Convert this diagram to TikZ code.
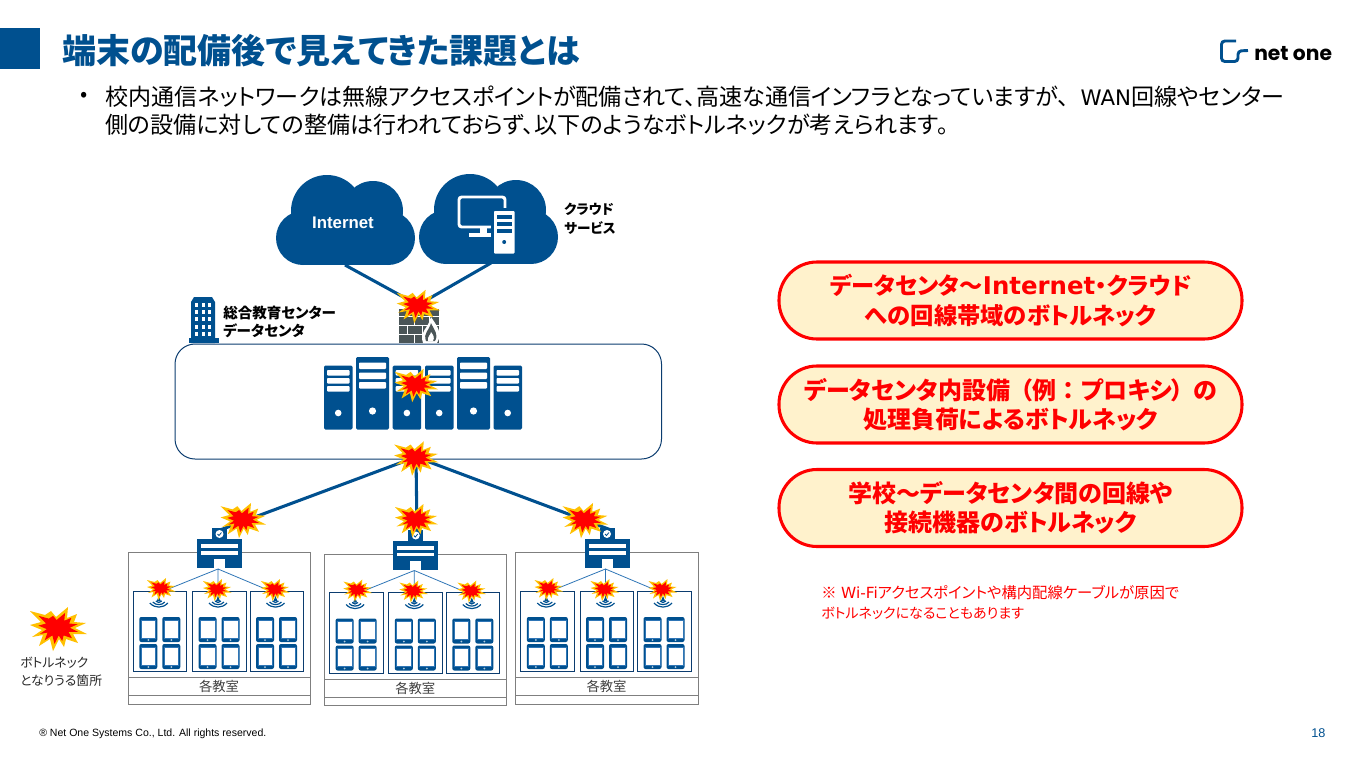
\documentclass[tikz,border=0pt]{standalone}
\usepackage{fontspec}
\setmainfont{Noto Sans CJK JP}[RawFeature=+palt]
\newfontfamily\latinfont{Liberation Sans}
\newfontfamily\widefont{DejaVu Sans}
\newfontfamily\logofont{Poppins}
\usepackage{tikz}

\definecolor{brand}{HTML}{00508F}
\definecolor{boxline}{HTML}{0B3C6F}
\definecolor{wire}{HTML}{2E75B6}
\definecolor{roomline}{HTML}{7F7F7F}
\definecolor{wall}{HTML}{4A5557}
\definecolor{gold}{HTML}{FFC000}
\definecolor{pillfill}{HTML}{FFF2CC}

\newcommand{\fsz}[1]{\fontsize{#1}{#1}\selectfont}
\newcommand{\burstpath}{(-28,-16) -- (-13,-12) -- (-7,-16) -- (-2,-10) -- (10,-20) -- (9,-9) -- (19,-13) -- (16,-5) -- (28,-4) -- (17,1) -- (29,7) -- (15,7) -- (20,16) -- (8,12) -- (6,20) -- (1,12) -- (-5,24) -- (-8,12) -- (-19,19) -- (-15,8) -- (-26,10) -- (-16,3) -- (-28,-2) -- (-17,-5) -- cycle}

\begin{document}
\begin{tikzpicture}[x=.75pt, y=-.75pt,
	txt/.style = {inner sep=0, anchor=west, align=left},
	pill/.style = {draw=red, fill=pillfill, line width=2.3pt, rounded corners=38pt*.75, minimum width=463*.75pt, minimum height=77*.75pt, inner sep=0, text=red, align=center, font=\fsz{18}\bfseries},
	link/.style = {draw=brand, line width=2.3pt},
	burst/.pic = {
		\fill[gold] \burstpath;
		\fill[red, scale=.7] \burstpath;
	},
	tablet/.pic = {
		\fill[brand, rounded corners=1.5pt] (0,0) rectangle (18,25);
		\fill[white, draw=wire, line width=.3pt] (1.7,2.7) rectangle (16.3,21);
		\fill[white!70!brand] (9,23) circle (1);
	},
	wifi/.pic = {
		\fill[brand] (0,-2) -- (2,3) -- (-2,3) -- cycle;
		\draw[brand, line width=.9pt] (-3,3) .. controls (-1.5,5) and (1.5,5) .. (3,3);
		\draw[brand, line width=.9pt] (-6,4) .. controls (-3,7.5) and (3,7.5) .. (6,4);
		\draw[brand, line width=.9pt] (-9,5) .. controls (-4,10.5) and (4,10.5) .. (9,5);
	},
	desk/.pic = {
		\draw[boxline, line width=.7pt] (0,0) rectangle (53.5,80.5);
		\foreach \tx in {6,29}
			\foreach \ty in {26,53}
				\pic at (\tx,\ty) {tablet};
		\pic at (25.5,7) {wifi};
	},
	router/.pic = {
		\fill[brand] (15,0) rectangle (30,12);
		\fill[brand] (0,11) rectangle (45,40);
		\fill[white] (22.5,6) circle (4);
		\draw[brand, line width=.6pt] (20.5,6) -- (22,7.5) -- (24.5,4.5);
		\fill[white] (4,16) rectangle (41,20);
		\fill[white] (4,23) rectangle (41,26.5);
		\fill[white] (17,31) rectangle (28,40);
	},
	room/.pic = {
		\draw[roomline, line width=.7pt] (0,.5) rectangle (182.5,152);
		\draw[roomline, line width=.7pt] (0,125.5) -- (182.5,125.5) (0,143.5) -- (182.5,143.5);
		\coordinate (-fan) at (90,17);
		\coordinate (-a) at (30.5,41);
		\coordinate (-b) at (90,46);
		\coordinate (-c) at (147,41);
		\draw[wire, line width=.6pt] (-a) -- (-fan) -- (-b) (-fan) -- (-c);
		\pic at (69,-24) {router};
		\pic at (5.3,39) {desk};
		\pic at (64.5,39) {desk};
		\pic at (122,39) {desk};
		\pic[scale=.5] at (33,36) {burst};
		\pic[scale=.5] at (89,37) {burst};
		\pic[scale=.5] at (147,37) {burst};
		\node[inner sep=0, text=black!75, font=\fsz{10}] (-name) at (91,134.5) {各教室};
	},
	smallsrv/.pic = {
		\fill[brand, rounded corners=1pt] (0,0) rectangle (28.5,64);
		\foreach \by in {4.5,12.5,20.5}
			\fill[white, rounded corners=.7pt] (3,\by) rectangle (25.5,\by+5.5);
		\fill[white] (14.2,47.5) circle (3.3);
	},
	bigsrv/.pic = {
		\fill[brand, rounded corners=1pt] (0,0) rectangle (33,72.5);
		\foreach \by in {5.5,15.5,25}
			\fill[white, rounded corners=.7pt] (3,\by) rectangle (30,\by+6.5);
		\fill[white] (16.5,54) circle (3.6);
	},
	cloud/.pic = {
		\fill[brand] (27,63) circle (27);
		\fill[brand] (112,63) circle (27);
		\fill[brand] (51,36) circle (36);
		\fill[brand] (97,36) circle (30);
		\fill[brand] (27,52) rectangle (112,90);
		\fill[brand] (45,30) rectangle (100,60);
	}]
	\useasboundingbox (0,0) rectangle (1361,764);

	% header
	\node[fill=brand, minimum width=40*.75pt, minimum height=41*.75pt, inner sep=0, anchor=north west] (mark) at (0,28) {};
	\node[txt, text=brand, font=\fsz{25.5}\bfseries] (title) at (62,51) {端末の配備後で見えてきた課題とは};
	\draw[brand, line width=2.2pt, rounded corners=2.5pt] (1236,41) -- (1221.5,41) -- (1221.5,61.5) -- (1238,61.5) -- (1238,51) -- (1248,50.5);
	\node[txt, font=\logofont\fsz{15.2}\bfseries] (logo) at (1254,54) {net one};
	\node[txt, font=\fsz{16}] (dot) at (80,97) {•};
	\node[txt, font=\fsz{17.3}] (lineA) at (105,97) {校内通信ネットワークは無線アクセスポイントが配備されて、高速な通信インフラとなっていますが、\kern.5em{\widefont\fsz{16}WAN}回線やセンター};
	\node[txt, font=\fsz{17.3}] (lineB) at (105,125) {側の設備に対しての整備は行われておらず、以下のようなボトルネックが考えられます。};

	% clouds
	\pic (inet) at (276,175) {cloud};
	\pic (svc) at (419,174) {cloud};
	\node[inner sep=0, text=white, font=\latinfont\fsz{12.6}\bfseries] (inettxt) at (343,223) {Internet};
	\draw[white, line width=2.2pt, rounded corners=2pt] (459,197) rectangle (505,227);
	\fill[white] (480,228) rectangle (487,233);
	\fill[white] (469,233) rectangle (492,237);
	\fill[brand] (491,208) rectangle (518,256);
	\fill[white, rounded corners=.7pt] (494,211) rectangle (514.5,253.5);
	\fill[brand] (497,215) rectangle (511.5,219);
	\fill[brand] (497,222) rectangle (511.5,226);
	\fill[brand] (497,229) rectangle (511.5,232.5);
	\fill[brand] (504.2,242) circle (2);
	\node[txt, font=\fsz{10.2}\bfseries] (svctxt) at (564,219) {クラウド\\[3.8pt]サービス};

	% data center
	\fill[brand] (191,343) -- (191,302) -- (194,297) -- (212,297) -- (215,302) -- (215,343) -- cycle;
	\fill[brand] (189,338) rectangle (219,343);
	\foreach \wx in {195,201.5,208}
		\foreach \wy in {303,310,317,325,332}
			\fill[white] (\wx,\wy) rectangle (\wx+3,\wy+3.5);
	\node[txt, font=\fsz{10.9}\bfseries] (dctxt) at (223,322) {総合教育センター\\[2.5pt]データセンタ};
	\node[draw=boxline, line width=.75pt, fill=white, rounded corners=15pt, minimum width=486.5*.75pt, minimum height=115*.75pt, inner sep=0, anchor=north west] (dc) at (174.5,343.5) {};
	\pic at (324,365.5) {smallsrv};
	\pic at (356,357) {bigsrv};
	\pic at (392.7,365.5) {smallsrv};
	\pic at (425,365.5) {smallsrv};
	\pic at (457,357) {bigsrv};
	\pic at (493.5,365.5) {smallsrv};

	% firewall
	\fill[wall] (399,309) rectangle (439,343);
	\draw[white, line width=.7pt] (399,316) -- (439,316) (399,325) -- (439,325) (399,334) -- (439,334) (414,316) -- (414,325) (429,316) -- (429,325) (407,325) -- (407,334) (422,325) -- (422,334) (414,334) -- (414,343) (429,334) -- (429,343);
	\fill[white] (423,343) .. controls (419,331) and (427,331) .. (431,317) .. controls (437,326) and (443,333) .. (437,343) -- cycle;
	\fill[wall] (426,341) .. controls (423,333) and (429,331) .. (431,323) .. controls (434,330) and (439,334) .. (435,341) -- cycle;
	\fill[white] (428,341) .. controls (427,336) and (431,335) .. (431,332) .. controls (433,335) and (435,337) .. (433,341) -- cycle;

	% links
	\coordinate (wall) at (418,305);
	\coordinate (hub) at (416,457);
	\coordinate (inetfoot) at (345,265);
	\coordinate (svcfoot) at (491,263);
	\draw[link] (inetfoot) -- (wall);
	\draw[link] (svcfoot) -- (wall);
	\coordinate (topA) at (220,530);
	\coordinate (topB) at (417,531);
	\coordinate (topC) at (611,530);
	\draw[link] (hub) -- (topA);
	\draw[link] (hub) -- (topB);
	\draw[link] (hub) -- (topC);

	% rooms
	\pic (roomA) at (128,552) {room};
	\pic (roomB) at (324.3,553.5) {room};
	\pic (roomC) at (515.5,552) {room};

	% bottlenecks
	\pic[scale=.76] at (418,305) {burst};
	\pic[scale=.76] at (416,384) {burst};
	\pic[scale=.78] at (416,457) {burst};
	\pic[scale=.8] at (243,519) {burst};
	\pic[scale=.75] at (416,519) {burst};
	\pic[scale=.8] at (585,519) {burst};
	\pic at (58,627) {burst};
	\node[txt, text=black!85, font=\fsz{9.6}] (legend) at (20,672) {ボトルネック\\[3.9pt]となりうる箇所};

	% right side
	\node[pill] (pillA) at (1010.5,300.5) {{\fsz{17.4}データセンタ～{\widefont\fsz{18.3}Internet}・クラウド}\\[4pt]{\fsz{17.5}への回線帯域のボトルネック}};
	\node[pill] (pillB) at (1010.5,404.5) {データセンタ内設備\kern.4em（例\kern.27em：\kern.27emプロキシ）\kern.4emの\\[4pt]処理負荷によるボトルネック};
	\node[pill] (pillC) at (1010.5,508) {学校～データセンタ間の回線や\\[4pt]接続機器のボトルネック};
	\node[txt, text=red, font=\fsz{11.5}] (note) at (821,602) {※\kern.3em{\widefont\fsz{11.5}Wi-Fi}アクセスポイントや構内配線ケーブルが原因で\\[3.5pt]{\fsz{10.5}ボトルネックになることもあります}};

	% footer
	\node[txt, font=\latinfont\fsz{7.9}] (copy) at (39,733.5) {® Net One Systems Co., Ltd. All rights reserved.};
	\node[txt, text=brand, font=\latinfont\fsz{9.5}] (page) at (1311,733.5) {18};
\end{tikzpicture}
\end{document}
